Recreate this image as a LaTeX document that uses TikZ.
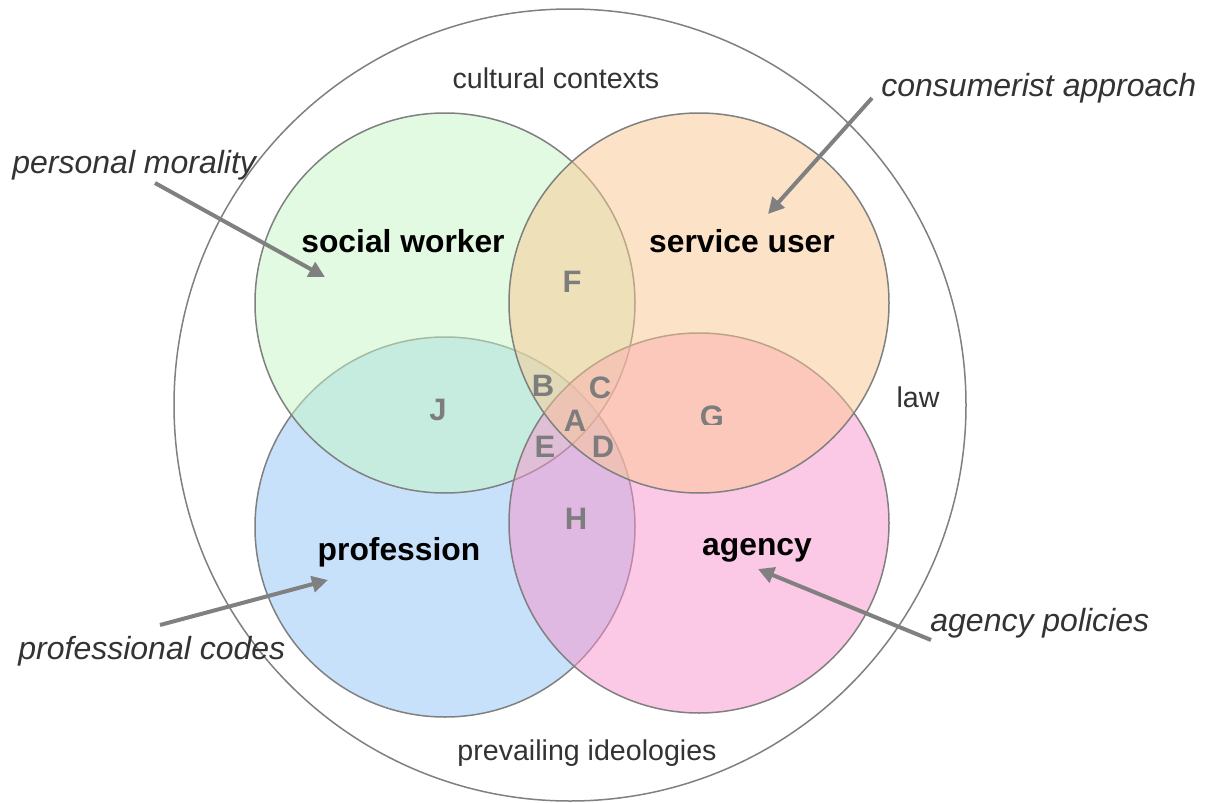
\documentclass[tikz,border=0pt]{standalone}
\usepackage{fontspec}
\setmainfont{Liberation Sans}
\usetikzlibrary{arrows.meta}
\definecolor{cgreen}{RGB}{197,247,197}
\definecolor{corange}{RGB}{251,201,147}
\definecolor{cblue}{RGB}{147,197,249}
\definecolor{cpink}{RGB}{249,147,205}
\definecolor{linegray}{RGB}{128,128,128}
\definecolor{lettergray}{RGB}{125,125,125}
\definecolor{textgray}{RGB}{51,51,51}
\begin{document}
\begin{tikzpicture}[x=0.5pt,y=-0.5pt,
  venn/.style={circle, draw=linegray, line width=0.75pt, fill opacity=0.5, inner sep=0pt, minimum size=190pt},
  outer/.style={circle, draw=linegray, line width=0.75pt, inner sep=0pt, minimum size=396pt},
  letter/.style={font=\fontsize{15.5pt}{18pt}\selectfont\bfseries, text=lettergray, inner sep=0pt, anchor=center},
  main/.style={font=\fontsize{15.9pt}{19pt}\selectfont\bfseries, text=black, inner sep=0pt, anchor=base},
  ctx/.style={font=\fontsize{14.3pt}{17pt}\selectfont, text=textgray, inner sep=0pt, anchor=base},
  infl/.style={font=\fontsize{16pt}{19pt}\selectfont\itshape, text=textgray, inner sep=0pt, anchor=base west},
  arr/.style={draw=linegray, line width=2pt, -{Triangle[length=8pt,width=8pt]}, fill=linegray}
]
\useasboundingbox (0,0) rectangle (1205,803);
\fill[white] (0,0) rectangle (1205,803);

% outer circle
\node[outer] (big) at (570,405) {};

% venn circles
\node[venn, fill=cblue] (prof) at (445,527) {};
\node[venn, fill=cgreen] (sw) at (445,303) {};
\node[venn, fill=cpink] (ag) at (699,523) {};
\node[venn, fill=corange] (su) at (699,303) {};

% region letters
\node[letter] (lF) at (572,282) {F};
\node[letter] (lJ) at (438,410) {J};
\node[letter] (lB) at (543,386) {B};
\node[letter] (lC) at (600,388) {C};
\node[letter] (lA) at (575,421) {A};
\node[letter] (lE) at (545,447) {E};
\node[letter] (lD) at (603,447) {D};
\node[letter] (lH) at (576,519) {H};
\begin{scope}
  \clip (650,380) rectangle (780,424);
  \node[letter] (lG) at (712,417) {G};
\end{scope}

% main labels
\node[main] (tsw) at (403,252) {social worker};
\node[main] (tsu) at (742,252) {service user};
\node[main] (tpr) at (399,560) {profession};
\node[main] (tag) at (757,555) {agency};

% context labels
\node[ctx] (tcc) at (556,88) {cultural contexts};
\node[ctx] (tpi) at (587,760) {prevailing ideologies};
\node[ctx] (tlaw) at (918,407) {law};

% influence labels
\node[infl] (tpm) at (12,173) {personal morality};
\node[infl] (tca) at (881,96) {consumerist approach};
\node[infl] (tpc) at (18,659) {professional codes};
\node[infl] (tap) at (930,631) {agency policies};

% arrows
\coordinate (pmS) at (155,183);
\coordinate (pmT) at (325,277);
\coordinate (caS) at (872,98);
\coordinate (caT) at (768,214);
\coordinate (pcS) at (160,625);
\coordinate (pcT) at (328,580);
\coordinate (apS) at (931,640);
\coordinate (apT) at (758,569);
\draw[arr] (pmS) -- (pmT);
\draw[arr] (caS) -- (caT);
\draw[arr] (pcS) -- (pcT);
\draw[arr] (apS) -- (apT);
\end{tikzpicture}
\end{document}
